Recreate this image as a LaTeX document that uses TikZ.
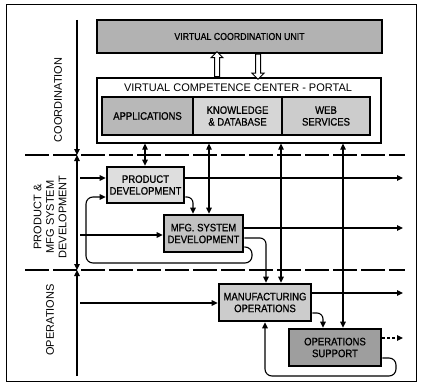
\documentclass[tikz,border=0pt]{standalone}
\usepackage{fontspec}
\setmainfont{Liberation Sans}
\newfontfamily\condfont[FakeStretch=0.88,FakeBold=0.8]{Liberation Sans}
\usetikzlibrary{arrows.meta,shapes.arrows}

\definecolor{vcugray}{gray}{0.70}
\definecolor{appgray}{gray}{0.72}
\definecolor{kdbgray}{gray}{0.84}
\definecolor{webgray}{gray}{0.80}
\definecolor{pdgray}{gray}{0.87}
\definecolor{msdgray}{gray}{0.76}
\definecolor{mogray}{gray}{0.80}
\definecolor{osgray}{gray}{0.62}

\begin{document}
\begin{tikzpicture}[x=1pt,y=-1pt,
  box/.style={draw, line width=2.6pt, inner sep=0pt, align=center,
    font=\condfont\fontsize{10.8}{11.8}\selectfont},
  link/.style={line width=1.1pt},
  arr/.style={link, -{Triangle[length=6pt,width=5.5pt]}},
  biarr/.style={link, {Triangle[length=6pt,width=5.5pt]}-{Triangle[length=6pt,width=5.5pt]}},
  zone/.style={line width=2.6pt, dash pattern=on 24pt off 4pt},
  lbl/.style={font=\fontsize{11}{12.5}\selectfont, rotate=90, align=center},
  hollow/.style={single arrow, draw, line width=1pt, fill=white,
    minimum height=25pt, minimum width=11pt, inner sep=2pt,
    single arrow head extend=3.5pt}
]
\useasboundingbox (0,0) rectangle (422,385);

% outer frame
\node[draw, line width=0.8pt, minimum width=410pt, minimum height=377pt, inner sep=0pt]
  (frame) at (211,192.5) {};

% lane separators and the left axis
\coordinate (z1w) at (25,155);  \coordinate (z1e) at (405,155);
\coordinate (z2w) at (25,270);  \coordinate (z2e) at (405,270);
\draw[zone] (z1w) -- (z1e);
\draw[zone] (z2w) -- (z2e);

\coordinate (laneT) at (77,20);
\coordinate (laneB) at (77,376);
\draw[arr] (laneT) -- (laneT |- z1w);
\draw[biarr] (laneT |- z1w) -- (laneT |- z2w);
\draw[arr] (laneB) -- (laneB |- z2w);

% lane titles
\node[lbl] (lc) at (58,100) {COORDINATION};
\node[lbl] (lp) at (50,217) {PRODUCT \&\\MFG SYSTEM\\DEVELOPMENT};
\node[lbl] (lo) at (50,320) {OPERATIONS};

% coordination level
\node[box, fill=vcugray, minimum width=285pt, minimum height=33pt,
  font=\condfont\fontsize{10}{11}\selectfont] (vcu) at (239.5,36.5) {VIRTUAL COORDINATION UNIT};
\node[draw, line width=1.2pt, minimum width=284pt, minimum height=65pt, inner sep=0pt]
  (portal) at (239,110.5) {};
\node[font=\fontsize{11}{12}\selectfont] (ptitle) at (238,87.5) {VIRTUAL COMPETENCE CENTER - PORTAL};
\node[box, fill=appgray, minimum width=91pt, minimum height=38pt] (app) at (147.5,116) {APPLICATIONS};
\node[box, fill=kdbgray, minimum width=89pt, minimum height=38pt] (kdb) at (237.5,116) {KNOWLEDGE\\\& DATABASE};
\node[box, fill=webgray, minimum width=88pt, minimum height=38pt] (web) at (326,116) {WEB\\SERVICES};

\node[hollow, shape border rotate=90]  (up)   at (217,65.5) {};
\node[hollow, shape border rotate=270] (down) at (258,65.5) {};

% process boxes
\node[box, fill=pdgray,  minimum width=77pt, minimum height=36pt] (pd)  at (145.5,185)   {PRODUCT\\DEVELOPMENT};
\node[box, fill=msdgray, minimum width=79pt, minimum height=37pt] (msd) at (203.5,233.5) {MFG. SYSTEM\\DEVELOPMENT};
\node[box, fill=mogray,  minimum width=92pt, minimum height=37pt] (mo)  at (265,302.5)   {MANUFACTURING\\OPERATIONS};
\node[box, fill=osgray,  minimum width=92pt, minimum height=37pt] (os)  at (335,347.5)   {OPERATIONS\\SUPPORT};

% portal links
\coordinate (v1) at (145,0);
\coordinate (v2) at (209,0);
\coordinate (v3) at (281,0);
\coordinate (v4) at (343,0);
\draw[biarr] (portal.south -| v1) -- (pd.north -| v1);
\draw[biarr] (portal.south -| v2) -- (msd.north -| v2);
\draw[biarr] (portal.south -| v3) -- (mo.north -| v3);
\draw[biarr] (portal.south -| v4) -- (os.north -| v4);

% inputs from the left axis
\coordinate (in1) at (80,178);
\coordinate (in2) at (80,235);
\coordinate (in3) at (80,303);
\draw[arr] (in1) -- (in1 -| pd.west);
\draw[arr] (in2) -- (in2 -| msd.west);
\draw[arr] (in3) -- (in3 -| mo.west);

% outputs to the right
\coordinate (o1) at (403,178);
\coordinate (o2) at (403,228);
\coordinate (o3) at (403,293);
\coordinate (o4) at (403,338);
\draw[arr] (pd.east |- o1) -- (o1);
\draw[arr] (msd.east |- o2) -- (o2);
\draw[arr] (mo.east |- o3) -- (o3);
\draw[arr, dash pattern=on 3pt off 2pt] (os.east |- o4) -- (o4);

% flows between the boxes
\coordinate (pm) at (193,197);
\draw[arr, rounded corners=6pt] (pd.east |- pm) -- (pm) -- (pm |- msd.north);
\coordinate (mm) at (266,238);
\draw[arr, rounded corners=6pt] (msd.east |- mm) -- (mm) -- (mm |- mo.north);
\coordinate (mos) at (323,313);
\draw[arr, rounded corners=6pt] (mo.east |- mos) -- (mos) -- (mos |- os.north);

% feedback loops
\coordinate (l1a) at (252,247);
\coordinate (l1b) at (86,263);
\draw[arr, rounded corners=7pt] (msd.east |- l1a) -- (l1a) -- (l1a |- l1b) -- (l1b) -- (l1b |- pm) -- (pd.west |- pm);
\coordinate (l2a) at (396,358);
\coordinate (l2b) at (265,376);
\draw[arr, rounded corners=7pt] (os.east |- l2a) -- (l2a) -- (l2a |- l2b) -- (l2b) -- (l2b |- mo.south);
\end{tikzpicture}
\end{document}
